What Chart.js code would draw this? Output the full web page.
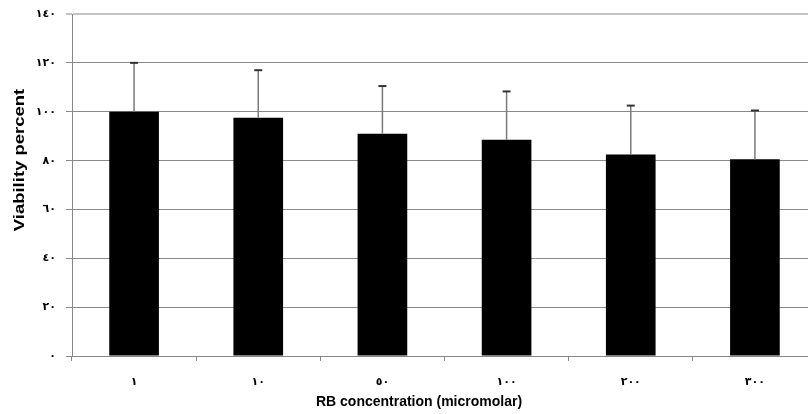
<!DOCTYPE html>
<html>
<head>
<meta charset="utf-8">
<script src="https://cdn.jsdelivr.net/npm/chart.js@4"></script>
<style>
  html, body { margin: 0; padding: 0; background: #fff; overflow: hidden; }
  #wrap { width: 808px; height: 414px; overflow: hidden; }
</style>
</head>
<body>
<div id="wrap"><canvas id="chart" width="820" height="414"></canvas></div>
<script>
// RB concentration (micromolar), Arabic-Indic digits as in the figure
const categories = ['١', '١٠', '٥٠', '١٠٠', '٢٠٠', '٣٠٠'];
// mean viability percent
const viability = [100, 97.5, 91, 88.5, 82.5, 80.5];
// upper error (SD)
const errorUp = [20, 19.5, 19.5, 19.8, 20, 20];
const yTickLabels = ['٠', '٢٠', '٤٠', '٦٠', '٨٠', '١٠٠', '١٢٠', '١٤٠'];

const labelFont = '"Liberation Sans", "DejaVu Sans", Arial, sans-serif';

// draws the one-sided error bars using the chart's scales
const errorBars = {
    id: 'errorBars',
    afterDatasetsDraw(chart) {
        const c = chart.ctx;
        const x = chart.scales.x;
        const y = chart.scales.y;
        c.save();
        viability.forEach((v, i) => {
            const px = x.getPixelForValue(i);
            const y0 = y.getPixelForValue(v);
            const y1 = y.getPixelForValue(v + errorUp[i]);
            c.strokeStyle = '#7a7a7a';
            c.lineWidth = 1.5;
            c.beginPath();
            c.moveTo(px, y0);
            c.lineTo(px, y1);
            c.stroke();
            c.strokeStyle = '#333';
            c.lineWidth = 2;
            c.beginPath();
            c.moveTo(px - 4, y1);
            c.lineTo(px + 4, y1);
            c.stroke();
        });
        c.restore();
    }
};

// axis titles placed like the original figure
const axisTitles = {
    id: 'axisTitles',
    afterDraw(chart) {
        const c = chart.ctx;
        c.save();
        c.fillStyle = '#000';
        c.font = 'bold 14px ' + labelFont;
        c.textAlign = 'center';
        c.textBaseline = 'middle';
        c.fillText('RB concentration (micromolar)', 419, 402);
        c.translate(20, 160);
        c.rotate(-Math.PI / 2);
        c.scale(1.32, 1.05); // y title is stretched in the source figure
        c.fillText('Viability percent', 0, 0);
        c.restore();
    }
};

const ctx = document.getElementById('chart').getContext('2d');
const chart = new Chart(ctx, {
    type: 'bar',
    data: {
        labels: categories,
        datasets: [{
            data: viability,
            backgroundColor: '#000',
            borderColor: '#000',
            borderWidth: 0,
            barPercentage: 0.4,
            categoryPercentage: 1
        }]
    },
    options: {
        responsive: false,
        animation: false,
        devicePixelRatio: 1,
        layout: { padding: { top: 14, right: 3, left: 0, bottom: 0 } },
        plugins: {
            legend: { display: false },
            tooltip: { enabled: false }
        },
        scales: {
            x: {
                afterFit(scale) { scale.height = 58; },
                grid: {
                    offset: true,
                    drawOnChartArea: false,
                    tickLength: 5,
                    color: '#888'
                },
                border: { color: '#888', width: 1 },
                ticks: {
                    color: '#000',
                    padding: 14,
                    font: { family: labelFont, size: 11, weight: 'bold' }
                }
            },
            y: {
                min: 0,
                max: 140,
                afterFit(scale) {
                    scale.width = 72;
                    scale.paddingTop = 0;
                    scale.paddingBottom = 0;
                },
                grid: {
                    tickLength: 6,
                    color: (c) => c.tick && c.tick.value === 140 ? '#c4c4c4' : '#8a8a8a',
                    lineWidth: (c) => c.tick && c.tick.value === 140 ? 2 : 1
                },
                border: { color: '#888', width: 1 },
                ticks: {
                    stepSize: 20,
                    color: '#000',
                    padding: 10,
                    font: { family: labelFont, size: 11, weight: 'bold' },
                    callback: (v) => yTickLabels[Math.round(v / 20)]
                }
            }
        }
    },
    plugins: [errorBars, axisTitles]
});
</script>
</body>
</html>
